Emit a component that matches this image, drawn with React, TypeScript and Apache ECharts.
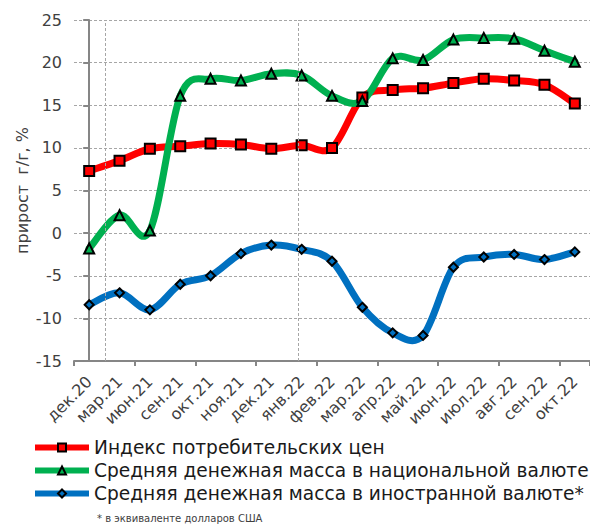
import React, { useEffect, useRef } from "react";
import * as echarts from "echarts";

const categories = ["дек.20", "мар.21", "июн.21", "сен.21", "окт.21", "ноя.21", "дек.21", "янв.22", "фев.22", "мар.22", "апр.22", "май.22", "июн.22", "июл.22", "авг.22", "сен.22", "окт.22"];
const cpi = [7.3, 8.5, 9.9, 10.2, 10.5, 10.4, 9.9, 10.3, 10.0, 15.9, 16.8, 17.0, 17.6, 18.1, 17.9, 17.4, 15.2];
const moneyNational = [-1.8, 2.1, 0.3, 16.1, 18.1, 17.9, 18.7, 18.5, 16.1, 15.5, 20.5, 20.3, 22.7, 22.9, 22.8, 21.4, 20.1];
const moneyForeign = [-8.4, -7.0, -9.0, -6.0, -5.0, -2.4, -1.4, -1.9, -3.3, -8.7, -11.7, -12.0, -4.0, -2.8, -2.5, -3.1, -2.2];
const yearGridPositions = [0.52, 6.9];
const seriesNames = [
  "Индекс потребительских цен",
  "Средняя денежная масса в национальной валюте",
  "Средняя денежная масса в иностранной валюте*",
];
const footnote = "* в эквиваленте долларов США";

const FONT = "DejaVu Sans";

// smooth curve (Catmull-Rom style, like spreadsheet smoothing), drawn through the axes
function smoothSeries(name: string, values: number[], color: string) {
  return {
    type: "custom",
    name: name + "__curve",
    xAxisIndex: 0,
    yAxisIndex: 0,
    silent: true,
    z: 2,
    data: values.map((v, i) => [i, v]),
    renderItem: (params: any, api: any) => {
      const i = params.dataIndex;
      if (i >= values.length - 1) return null;
      const n = values.length;
      const p = (k: number) => api.coord([Math.max(0, Math.min(n - 1, k)), values[Math.max(0, Math.min(n - 1, k))]]);
      const p0 = p(i - 1), p1 = p(i), p2 = p(i + 1), p3 = p(i + 2);
      const t = 1 / 6;
      return {
        type: "bezierCurve",
        shape: {
          x1: p1[0], y1: p1[1],
          x2: p2[0], y2: p2[1],
          cpx1: p1[0] + (p2[0] - p0[0]) * t, cpy1: p1[1] + (p2[1] - p0[1]) * t,
          cpx2: p2[0] - (p3[0] - p1[0]) * t, cpy2: p2[1] - (p3[1] - p1[1]) * t,
        },
        style: { stroke: color, lineWidth: 7, fill: null, lineCap: "round" },
      };
    },
  };
}

function markerSeries(name: string, values: number[], color: string, symbol: string, size: number) {
  return {
    name,
    type: "line",
    data: values,
    xAxisIndex: 0,
    yAxisIndex: 0,
    symbol,
    symbolSize: size,
    showAllSymbol: true,
    lineStyle: { color, width: 7, opacity: 0 },
    itemStyle: { color, borderColor: "#000", borderWidth: 2 },
    z: 3,
  };
}

export default function App() {
  const ref = useRef<HTMLDivElement>(null);
  useEffect(() => {
    document.body.style.margin = "0";
    const chart = echarts.init(ref.current!, null, { renderer: "svg" });
    chart.setOption({
      animation: false,
      textStyle: { fontFamily: FONT },
      grid: { left: 74, top: 20, width: 518, height: 341 },
      xAxis: [
        {
          type: "category",
          data: categories,
          position: "bottom",
          axisLine: { show: false, onZero: false },
          axisTick: { show: false },
          axisLabel: { rotate: 45, fontSize: 16, color: "#404040", margin: 18, interval: 0, fontFamily: FONT },
          splitLine: { show: false },
        },
        {
          type: "value",
          min: -0.5,
          max: 16.5,
          show: false,
        },
        {
          type: "category",
          data: categories,
          position: "bottom",
          axisLine: { show: true, onZero: true, lineStyle: { color: "#868686", width: 2 } },
          axisTick: { show: true, length: 5, lineStyle: { color: "#868686", width: 2 } },
          axisLabel: { show: false },
          splitLine: { show: false },
        },
      ],
      yAxis: {
        type: "value",
        min: -15,
        max: 25,
        interval: 5,
        name: "прирост  г/г, %",
        nameLocation: "middle",
        nameRotate: 90,
        nameGap: 44,
        nameMoveOverlap: false,
        nameTextStyle: { fontSize: 16, color: "#404040", fontFamily: FONT },
        axisLine: { show: true, lineStyle: { color: "#868686", width: 2 } },
        axisTick: { show: true, length: 6, lineStyle: { color: "#868686", width: 2 } },
        axisLabel: { fontSize: 16, color: "#404040", margin: 12, fontFamily: FONT },
        splitLine: { show: true, lineStyle: { color: "#a6a6a6", type: [3, 2], width: 1 } },
      },
      legend: {
        data: seriesNames,
        orient: "vertical",
        left: 32,
        top: 438,
        padding: 0,
        itemWidth: 54,
        itemHeight: 10,
        itemGap: 4,
        lineStyle: { width: 6, opacity: 1 },
        textStyle: { fontSize: 18.6, color: "#1a1a1a", fontFamily: FONT },
      },
      graphic: [
        { type: "text", left: 97, top: 513, style: { text: footnote, fontSize: 10, fill: "#404040", fontFamily: FONT } },
      ],
      series: [
        {
          type: "line",
          xAxisIndex: 1,
          yAxisIndex: 0,
          data: [],
          silent: true,
          markLine: {
            silent: true,
            symbol: "none",
            label: { show: false },
            lineStyle: { color: "#a6a6a6", type: [3, 2], width: 1 },
            data: yearGridPositions.map((v) => ({ xAxis: v })),
          },
        },
        smoothSeries(seriesNames[0], cpi, "#ff0000"),
        smoothSeries(seriesNames[1], moneyNational, "#00b050"),
        smoothSeries(seriesNames[2], moneyForeign, "#0070c0"),
        markerSeries(seriesNames[0], cpi, "#ff0000", "rect", 10),
        markerSeries(seriesNames[1], moneyNational, "#00b050", "triangle", 10),
        markerSeries(seriesNames[2], moneyForeign, "#0070c0", "diamond", 9),
      ],
    });
    return () => chart.dispose();
  }, []);
  return <div ref={ref} style={{ width: 590, height: 524, position: "absolute", left: 0, top: 0 }} />;
}
